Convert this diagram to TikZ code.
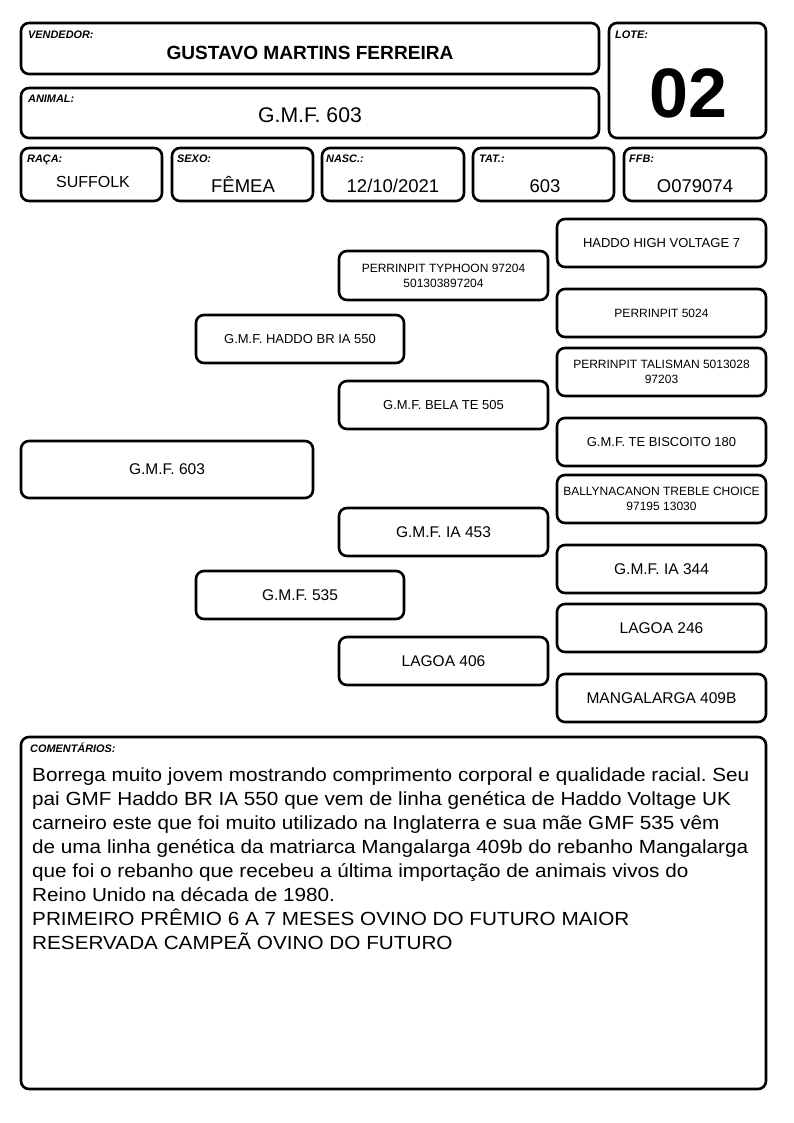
\documentclass[tikz,border=0pt]{standalone}
\usepackage{fontspec}
\setmainfont{Liberation Sans}
\newfontfamily\comfont[FakeStretch=1.09]{Liberation Sans}
\frenchspacing
\newcommand{\fs}[1]{\fontsize{#1}{1.2\dimexpr#1pt\relax}\selectfont}
\begin{document}
\begin{tikzpicture}[x=1pt,y=-1pt,
  box/.style={draw=black, line width=2.6pt, rounded corners=8pt, inner sep=0pt, fill=white},
  pbox/.style={box, minimum width=209pt, minimum height=48pt, align=center},
  lab/.style={anchor=base west, inner sep=0pt, font=\fs{10.9}\bfseries\itshape},
  val/.style={anchor=base, inner sep=0pt},
  pt12/.style={font=\fontsize{12}{15}\selectfont},
  pt13/.style={font=\fontsize{13}{15}\selectfont},
  pt16/.style={font=\fontsize{15.5}{18}\selectfont},
  cline/.style={anchor=base west, inner sep=0pt, font=\comfont\fs{19}\frenchspacing}
]
\useasboundingbox[fill=white] (0,0) rectangle (794,1123);

% header boxes
\node[box, minimum width=578pt, minimum height=51pt] (vend) at (310,48.5) {};
\node[box, minimum width=157pt, minimum height=115pt] (lote) at (687.5,80.5) {};
\node[box, minimum width=578pt, minimum height=50pt] (anim) at (310,113) {};
\node[box, minimum width=141pt, minimum height=53pt] (raca) at (91.5,174.5) {};
\node[box, minimum width=141pt, minimum height=53pt] (sexo) at (242.5,174.5) {};
\node[box, minimum width=142pt, minimum height=53pt] (nasc) at (393,174.5) {};
\node[box, minimum width=141pt, minimum height=53pt] (tat) at (543.5,174.5) {};
\node[box, minimum width=142pt, minimum height=53pt] (ffb) at (695,174.5) {};

\node[lab] (lvend) at (28,39) {VENDEDOR:};
\node[lab] (llote) at (615,39) {LOTE:};
\node[lab] (lanim) at (28,103) {ANIMAL:};
\node[lab] (lraca) at (27,163) {RAÇA:};
\node[lab] (lsexo) at (177,163) {SEXO:};
\node[lab] (lnasc) at (326,163) {NASC.:};
\node[lab] (ltat) at (479,163) {TAT.:};
\node[lab] (lffb) at (629,163) {FFB:};

\node[val, font=\fs{19.1}\bfseries] (vvend) at (310,60) {GUSTAVO MARTINS FERREIRA};
\node[val, font=\fs{70}\bfseries] (vlote) at (688,118) {02};
\node[val, font=\fs{21.2}] (vanim) at (310,123) {G.M.F. 603};
\node[val, font=\fs{16}] (vraca) at (93,188) {SUFFOLK};
\node[val, font=\fs{18.5}] (vsexo) at (243,193) {FÊMEA};
\node[val, font=\fs{18.5}] (vnasc) at (393,193) {12/10/2021};
\node[val, font=\fs{18.5}] (vtat) at (545,193) {603};
\node[val, font=\fs{18.5}] (vffb) at (695,193) {O079074};

% pedigree
\node[pbox, pt13] (p1) at (661.5,243) {HADDO HIGH VOLTAGE 7};
\node[pbox, pt12, minimum height=49pt] (p2) at (443.5,275.5) {PERRINPIT TYPHOON 97204\\501303897204};
\node[pbox, pt12] (p3) at (661.5,313) {PERRINPIT 5024};
\node[pbox, pt13, minimum width=208pt] (p4) at (300,339) {G.M.F. HADDO BR IA 550};
\node[pbox, pt12] (p5) at (661.5,372) {PERRINPIT TALISMAN 5013028\\97203};
\node[pbox, pt13] (p6) at (443.5,405) {G.M.F. BELA TE 505};
\node[pbox, pt13] (p7) at (661.5,442) {G.M.F. TE BISCOITO 180};
\node[pbox, pt16, minimum width=292pt, minimum height=57pt] (p8) at (167,469.5) {G.M.F. 603};
\node[pbox, pt12] (p9) at (661.5,499) {BALLYNACANON TREBLE CHOICE\\97195 13030};
\node[pbox, pt16] (p10) at (443.5,532) {G.M.F. IA 453};
\node[pbox, pt16] (p11) at (661.5,569) {G.M.F. IA 344};
\node[pbox, pt16, minimum width=208pt] (p12) at (300,595) {G.M.F. 535};
\node[pbox, pt16] (p13) at (661.5,628) {LAGOA 246};
\node[pbox, pt16] (p14) at (443.5,661) {LAGOA 406};
\node[pbox, pt16] (p15) at (661.5,698) {MANGALARGA 409B};

% comments
\node[box, minimum width=745pt, minimum height=352pt] (com) at (393.5,913) {};
\node[lab] (lcom) at (30,752) {COMENTÁRIOS:};
\foreach \t [count=\i from 0] in {
  {Borrega muito jovem mostrando comprimento corporal e qualidade racial. Seu},
  {pai GMF Haddo BR IA 550 que vem de linha genética de Haddo Voltage UK},
  {carneiro este que foi muito utilizado na Inglaterra e sua mãe GMF 535 vêm},
  {de uma linha genética da matriarca Mangalarga 409b do rebanho Mangalarga},
  {que foi o rebanho que recebeu a última importação de animais vivos do},
  {Reino Unido na década de 1980.},
  {PRIMEIRO PRÊMIO 6 A 7 MESES OVINO DO FUTURO MAIOR},
  {RESERVADA CAMPEÃ OVINO DO FUTURO}}
  \node[cline] (c\i) at (32,781+24*\i) {\t};
\end{tikzpicture}
\end{document}
